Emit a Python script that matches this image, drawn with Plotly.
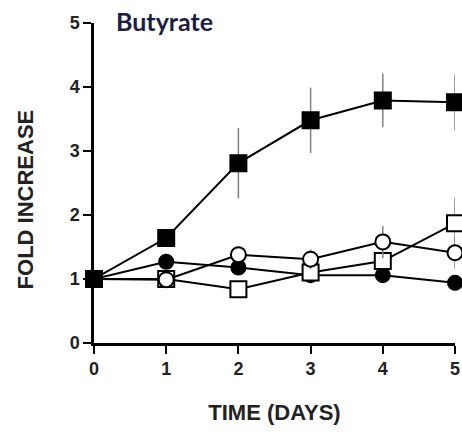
import plotly.graph_objects as go

days = [0, 1, 2, 3, 4, 5]

filled_square = [1.0, 1.64, 2.81, 3.48, 3.79, 3.76]
filled_square_err = [0.0, 0.05, 0.55, 0.51, 0.42, 0.43]

open_square = [1.0, 1.0, 0.84, 1.1, 1.28, 1.87]
open_square_err = [0.0, 0.05, 0.05, 0.08, 0.1, 0.4]

open_circle = [1.0, 0.99, 1.38, 1.31, 1.58, 1.41]
open_circle_err = [0.0, 0.05, 0.08, 0.15, 0.25, 0.25]

filled_circle = [1.0, 1.27, 1.18, 1.06, 1.06, 0.94]
filled_circle_err = [0.0, 0.06, 0.08, 0.1, 0.08, 0.1]

y_ticks = [0, 1, 2, 3, 4, 5]
x_ticks = [0, 1, 2, 3, 4, 5]

fig = go.Figure()

def add(y, err, symbol, fill, size):
    fig.add_trace(go.Scatter(
        x=days, y=y, mode="lines+markers",
        line=dict(color="black", width=2),
        marker=dict(symbol=symbol, size=size, color=fill,
                    line=dict(color="black", width=2)),
        error_y=dict(type="data", array=err, visible=True,
                     color="#808080", thickness=1.5, width=0),
        cliponaxis=False, showlegend=False,
    ))

add(filled_circle, filled_circle_err, "circle", "black", 14)
add(open_square, open_square_err, "square", "white", 16)
add(open_circle, open_circle_err, "circle", "white", 15)
add(filled_square, filled_square_err, "square", "black", 16)

axis_font = dict(family="Liberation Sans, Arial", size=18, color="#222", weight="bold")
title_font = dict(family="Liberation Sans, Arial", size=22, color="#222", weight="bold")

fig.update_layout(
    width=462, height=434,
    margin=dict(l=94, r=7, t=23, b=91),
    paper_bgcolor="white", plot_bgcolor="white",
    xaxis=dict(range=[0, 5], tickvals=x_ticks, ticks="outside", ticklen=8,
               tickwidth=2, tickcolor="black", showline=True, linewidth=2.5,
               linecolor="black", showgrid=False, zeroline=False,
               tickfont=axis_font, automargin=False,
               title=dict(text="TIME (DAYS)", font=title_font, standoff=27)),
    yaxis=dict(range=[0, 5], tickvals=y_ticks, ticks="outside", ticklen=8,
               tickwidth=2, tickcolor="black", showline=True, linewidth=2.5,
               linecolor="black", showgrid=False, zeroline=False,
               tickfont=axis_font, automargin=False),
    annotations=[
        dict(text="Butyrate", x=0.055, y=1.005, xref="paper", yref="paper",
             xanchor="left", yanchor="middle", showarrow=False,
             font=dict(family="Lato", size=25, color="#1c1c44", weight="bold")),
        dict(text="FOLD INCREASE", x=-0.19, y=0.45, xref="paper", yref="paper",
             xanchor="center", yanchor="middle", showarrow=False, textangle=-90,
             font=title_font),
    ],
)

fig.write_html("out.html")
